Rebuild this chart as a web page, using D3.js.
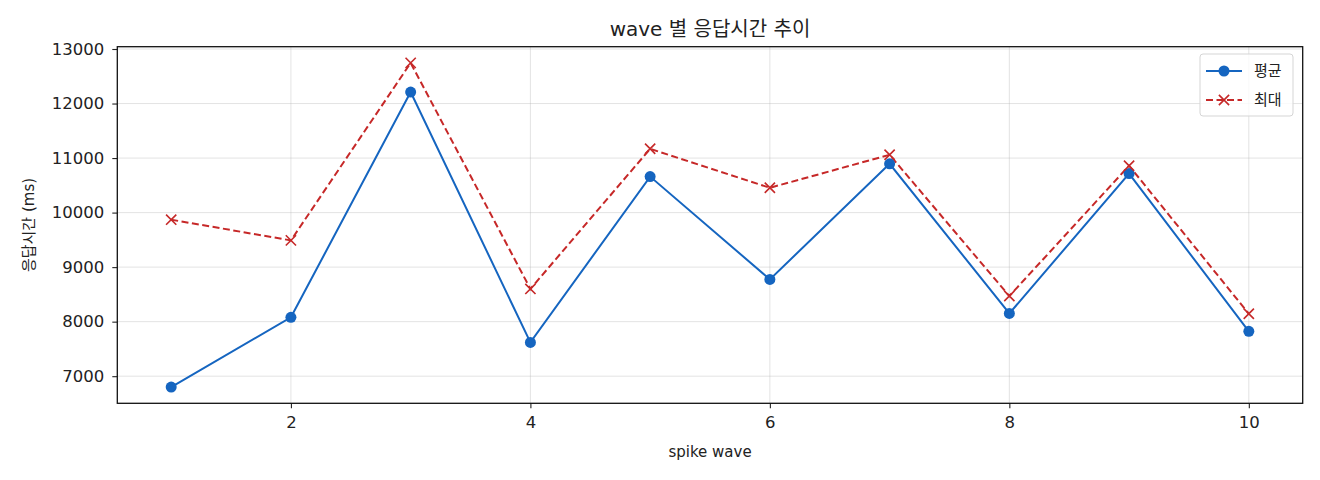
<!DOCTYPE html>
<html>
<head>
<meta charset="utf-8">
<script src="https://cdn.jsdelivr.net/npm/d3@7"></script>
<style>
  body { margin: 0; background: #fff; }
  text { font-family: "DejaVu Sans", "Noto Sans CJK KR", sans-serif; fill: #222; }
</style>
</head>
<body>
<div id="chart"></div>
<script>
// Data
var waves = [1, 2, 3, 4, 5, 6, 7, 8, 9, 10];
var avgTime = [6800, 8080, 12210, 7620, 10660, 8775, 10895, 8150, 10715, 7823];
var maxTime = [9870, 9490, 12745, 8600, 11170, 10455, 11060, 8470, 10860, 8145];
var xTicks = [2, 4, 6, 8, 10];
var yTicks = [7000, 8000, 9000, 10000, 11000, 12000, 13000];

var svgWidth = 1320;
var svgHeight = 480;
var margin = { top: 46.7, right: 17.3, bottom: 76.7, left: 117.3 };
var width = svgWidth - margin.left - margin.right;
var height = svgHeight - margin.top - margin.bottom;

var blue = '#1565c0';
var red = '#c62828';
var fontStack = '"DejaVu Sans", "Noto Sans CJK KR", sans-serif';

var svg = d3.select('#chart')
  .append('svg')
  .attr('width', svgWidth)
  .attr('height', svgHeight);

var chartGroup = svg.append('g')
  .attr('transform', `translate(${margin.left}, ${margin.top})`);

// Scales (matplotlib-style 5% padding)
var xPad = (d3.max(waves) - d3.min(waves)) * 0.05;
var xScale = d3.scaleLinear()
  .domain([d3.min(waves) - xPad, d3.max(waves) + xPad])
  .range([0, width]);

var allY = avgTime.concat(maxTime);
var yPad = (d3.max(allY) - d3.min(allY)) * 0.05;
var yScale = d3.scaleLinear()
  .domain([d3.min(allY) - yPad, d3.max(allY) + yPad])
  .range([height, 0]);

// Grid
chartGroup.append('g')
  .selectAll('line')
  .data(xTicks)
  .enter()
  .append('line')
  .attr('x1', d => xScale(d)).attr('x2', d => xScale(d))
  .attr('y1', 0).attr('y2', height)
  .attr('stroke', '#b0b0b0').attr('stroke-opacity', 0.35).attr('stroke-width', 1);

chartGroup.append('g')
  .selectAll('line')
  .data(yTicks)
  .enter()
  .append('line')
  .attr('x1', 0).attr('x2', width)
  .attr('y1', d => yScale(d)).attr('y2', d => yScale(d))
  .attr('stroke', '#b0b0b0').attr('stroke-opacity', 0.35).attr('stroke-width', 1);

// Axes
var bottomAxis = d3.axisBottom(xScale).tickValues(xTicks).tickSize(5).tickPadding(8).tickFormat(d3.format('d'));
var leftAxis = d3.axisLeft(yScale).tickValues(yTicks).tickSize(5).tickPadding(8).tickFormat(d3.format('d'));

var xAxis = chartGroup.append('g')
  .attr('transform', `translate(0, ${height})`)
  .call(bottomAxis);
var yAxis = chartGroup.append('g').call(leftAxis);

[xAxis, yAxis].forEach(function(ax) {
  ax.select('.domain').remove();
  ax.selectAll('line').attr('stroke', '#222').attr('stroke-width', 1.1);
  ax.selectAll('text')
    .attr('font-size', '16.5px')
    .attr('fill', '#222')
    .style('font-family', fontStack);
});

// Frame
chartGroup.append('rect')
  .attr('x', 0).attr('y', 0)
  .attr('width', width).attr('height', height)
  .attr('fill', 'none')
  .attr('stroke', '#111')
  .attr('stroke-width', 1.3);

// Lines
var line = function(vals) {
  return d3.line()
    .x((d, i) => xScale(waves[i]))
    .y(d => yScale(d))(vals);
};

chartGroup.append('path')
  .attr('d', line(maxTime))
  .attr('fill', 'none')
  .attr('stroke', red)
  .attr('stroke-width', 2)
  .attr('stroke-dasharray', '7,3.5');

chartGroup.append('path')
  .attr('d', line(avgTime))
  .attr('fill', 'none')
  .attr('stroke', blue)
  .attr('stroke-width', 2);

// Markers
chartGroup.append('g')
  .selectAll('circle')
  .data(avgTime)
  .enter()
  .append('circle')
  .attr('cx', (d, i) => xScale(waves[i]))
  .attr('cy', d => yScale(d))
  .attr('r', 5.5)
  .attr('fill', blue);

var cross = d3.symbol().type(d3.symbolX).size(70);
chartGroup.append('g')
  .selectAll('path')
  .data(maxTime)
  .enter()
  .append('path')
  .attr('d', cross)
  .attr('transform', (d, i) => `translate(${xScale(waves[i])}, ${yScale(d)})`)
  .attr('fill', 'none')
  .attr('stroke', red)
  .attr('stroke-width', 1.6);

// Title and labels
svg.append('text')
  .attr('x', margin.left + width / 2)
  .attr('y', 36)
  .attr('text-anchor', 'middle')
  .attr('font-size', '20px')
  .text('wave 별 응답시간 추이');

svg.append('text')
  .attr('x', margin.left + width / 2)
  .attr('y', 457)
  .attr('text-anchor', 'middle')
  .attr('font-size', '15px')
  .text('spike wave');

svg.append('text')
  .attr('transform', `translate(34, ${margin.top + height / 2}) rotate(-90)`)
  .attr('text-anchor', 'middle')
  .attr('font-size', '15px')
  .text('응답시간 (ms)');

// Legend
var legend = svg.append('g')
  .attr('transform', 'translate(1200, 54)');

legend.append('rect')
  .attr('x', 0).attr('y', 0)
  .attr('width', 93).attr('height', 62)
  .attr('rx', 3)
  .attr('fill', '#fff').attr('fill-opacity', 0.8)
  .attr('stroke', '#d5d5d5');

var legendItems = [
  { label: '평균', color: blue, dash: null, marker: 'circle' },
  { label: '최대', color: red, dash: '7,3.5', marker: 'x' }
];

legendItems.forEach(function(item, i) {
  var g = legend.append('g').attr('transform', `translate(0, ${17 + i * 29})`);
  g.append('line')
    .attr('x1', 6).attr('x2', 42)
    .attr('y1', 0).attr('y2', 0)
    .attr('stroke', item.color)
    .attr('stroke-width', 2)
    .attr('stroke-dasharray', item.dash);
  if (item.marker === 'circle') {
    g.append('circle').attr('cx', 24).attr('cy', 0).attr('r', 5.5).attr('fill', item.color);
  } else {
    g.append('path').attr('d', cross).attr('transform', 'translate(24, 0)')
      .attr('fill', 'none').attr('stroke', item.color).attr('stroke-width', 1.6);
  }
  g.append('text')
    .attr('x', 54).attr('y', 5)
    .attr('font-size', '15px')
    .text(item.label);
});
</script>
</body>
</html>
